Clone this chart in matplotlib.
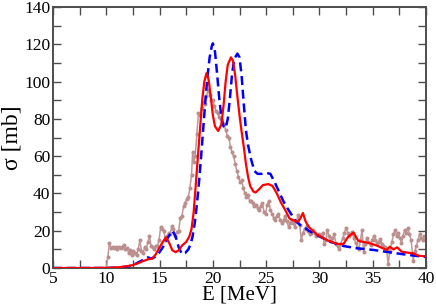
import matplotlib
matplotlib.use("Agg")
import matplotlib.pyplot as plt
from matplotlib.ticker import MultipleLocator

# ---------------- data ----------------
exp_E = [10.0, 10.15, 10.3, 10.45, 10.6, 10.75, 10.9, 11.05, 11.2, 11.35, 11.5, 11.65, 11.8, 11.95,
         12.1, 12.25, 12.4, 12.55, 12.7, 12.85, 13.0, 13.15, 13.3, 13.45, 13.6, 13.75, 13.9, 14.05,
         14.2, 14.35, 14.5, 14.65, 14.8, 14.95, 15.1, 15.25, 15.4, 15.55, 15.7, 15.85, 16.0, 16.15,
         16.3, 16.45, 16.6, 16.8, 16.95, 17.1, 17.25, 17.4, 17.55, 17.7, 17.85, 18.0, 18.1, 18.2,
         18.35, 18.5, 18.65, 18.8, 18.95, 19.1, 19.25, 19.4, 19.55, 19.7, 19.85, 20.0, 20.15, 20.3,
         20.45, 20.6, 20.75, 20.9, 21.05, 21.2, 21.35, 21.5, 21.65, 21.8, 21.95, 22.1, 22.25, 22.4,
         22.55, 22.7, 22.85, 23.0, 23.15, 23.3, 23.45, 23.6, 23.75, 23.9, 24.05, 24.2, 24.35, 24.5,
         24.65, 24.8, 24.95, 25.1, 25.25, 25.4, 25.55, 25.7, 25.85, 26.0, 26.15, 26.3, 26.5, 26.65,
         26.8, 26.95, 27.1, 27.25, 27.4, 27.55, 27.7, 27.85, 28.0, 28.15, 28.3, 28.45, 28.6, 28.8,
         28.95, 29.1, 29.25, 29.4, 29.55, 29.7, 29.85, 30.0, 30.15, 30.3, 30.45, 30.6, 30.75, 30.9,
         31.05, 31.2, 31.4, 31.55, 31.7, 31.85, 32.0, 32.2, 32.35, 32.5, 32.65, 32.8, 32.95, 33.1,
         33.25, 33.4, 33.55, 33.7, 33.85, 34.0, 34.15, 34.3, 34.45, 34.6, 34.8, 34.95, 35.1, 35.25,
         35.4, 35.55, 35.7, 35.85, 36.0, 36.15, 36.3, 36.45, 36.6, 36.8, 36.95, 37.1, 37.25, 37.4,
         37.55, 37.7, 37.85, 38.0, 38.15, 38.3, 38.45, 38.6, 38.8, 38.95, 39.1, 39.25, 39.4, 39.55,
         39.7, 39.85, 40.0]
exp_sigma = [0, 6, 13.5, 10.5, 11.5, 10.5, 11, 10, 11, 10.5, 11.5, 12.5, 10, 10.5,
             8, 9.5, 7, 9, 8, 7, 10, 15, 9, 8, 11, 10, 14, 17,
             12, 11, 10, 12, 12, 15, 22, 21, 20, 15, 17, 19, 18, 22.5,
             21, 17, 19.5, 20, 27, 28, 33, 35, 37, 38, 43, 50, 62, 57,
             60, 72, 83, 82, 86, 89, 88, 92, 95.5, 93, 90, 90, 87, 84,
             83, 81, 80, 78, 77, 74, 71, 70, 65, 62, 60, 56, 52, 49,
             46, 47, 43, 40, 38, 39, 36, 36, 35, 33, 34, 32, 31, 33,
             35, 30, 29, 34, 36, 31, 29, 27, 26, 28, 29, 26, 24, 26,
             28, 25, 22, 24, 26, 24, 22, 25, 28.5, 23, 15, 19, 21, 22.5,
             20, 18, 19, 20.5, 19, 17, 17.5, 18, 17, 19, 13, 15, 20.5, 17,
             14.5, 16, 18, 13, 12, 10, 13, 16, 19, 21.5, 19, 17, 18, 19.5,
             16, 13.5, 11, 10, 15, 20.5, 8.5, 13, 16, 14, 12.5, 15, 17, 15,
             13.5, 14, 15.5, 13, 12, 11, 10, 2, 9, 14, 18, 20.5, 17, 19,
             16, 13.5, 17, 20.5, 19, 21.5, 18, 15, 4, 9, 12, 15, 18, 16,
             15, 17, 15]

red_E = [5, 8, 10, 11, 11.5, 12, 12.5, 13, 13.5, 14, 14.3, 14.6, 15, 15.3, 15.6, 15.9, 16.2, 16.5,
         16.8, 17.1, 17.5, 17.8, 18.0, 18.2, 18.4, 18.6, 18.8, 19.0, 19.2, 19.4, 19.6, 19.8, 20.0,
         20.2, 20.5, 20.8, 21.0, 21.2, 21.4, 21.7, 21.9, 22.1, 22.3, 22.5, 22.7, 22.9, 23.1, 23.3,
         23.5, 23.8, 24.0, 24.3, 24.7, 25.2, 25.6, 26.0, 26.4, 26.8, 27.2, 27.8, 28.0, 28.2, 28.45,
         28.7, 29.0, 29.75, 30.7, 31.6, 32.25, 32.7, 33.2, 33.65, 34.6, 35.4, 36.3, 36.6, 36.95,
         37.3, 37.7, 38.3, 38.8, 39.3, 40.0]
red_sigma = [0, 0, 0.1, 0.3, 0.6, 1.0, 1.6, 2.6, 3.8, 4.8, 5.0, 7.0, 11, 14, 16.5, 13.5, 9.5, 8.5,
             9.5, 12, 14, 17, 21, 30, 45, 60, 75, 90, 100, 104.5, 101, 92, 82,
             76, 73.5, 77, 87, 100, 109, 113, 111, 103, 92, 82, 73, 65, 56, 49,
             44, 41, 40.5, 42, 44.5, 45, 44, 40, 35, 31, 26.5, 25, 25, 26.5, 29.5,
             25, 22, 18, 15, 13, 12.8, 16.8, 19, 14.5, 13.5, 12, 9.7, 11.4, 10,
             11.1, 8.8, 8.2, 7.9, 6.6, 6.2]

blue_E = [5, 10, 11, 12, 12.5, 13, 13.5, 13.9, 14.2, 14.6, 15.0, 15.4, 15.8, 16.2, 16.5, 16.8,
          17.1, 17.4, 17.7, 17.9, 18.1, 18.3, 18.5, 18.7, 18.9, 19.1, 19.3, 19.5, 19.7, 19.9, 20.0,
          20.2, 20.4, 20.6, 20.8, 21.0, 21.2, 21.4, 21.6, 21.8, 22.0, 22.3, 22.5, 22.7, 22.9, 23.1,
          23.3, 23.6, 23.9, 24.2, 24.6, 25.0, 25.4, 25.8, 26.2, 26.6, 27.0, 27.4, 27.8, 28.2, 28.5,
          29.0, 29.75, 31.0, 32.25, 33.5, 35.05, 36.6, 38.2, 40.0]
blue_sigma = [0, 0, 0.2, 0.8, 1.5, 3, 4.5, 5.7, 5, 6, 8.5, 12, 16.5, 20, 17, 11,
              7.5, 8, 10, 12.5, 17, 24, 34, 46, 60, 75, 90, 103, 113, 119, 120.5,
              116, 104, 91, 81, 76, 75, 80, 91, 104, 112, 115, 113, 103, 88, 74,
              66, 58, 52, 50.5, 50.5, 51, 50.5, 46, 41, 36, 32, 28.5, 25, 23, 22.2,
              20, 17.7, 14.1, 11.8, 10.6, 9.7, 8.4, 7.1, 5.9]

x_ticks = [5, 10, 15, 20, 25, 30, 35, 40]
y_ticks = [0, 20, 40, 60, 80, 100, 120, 140]

# ---------------- figure ----------------
plt.rcParams['font.family'] = ['Liberation Serif', 'DejaVu Serif']

fig = plt.figure(figsize=(4.36, 3.07), dpi=100)
ax = fig.add_axes([53/436, 1 - 268/307, 373/436, 261/307])

frame_col = '#4d4d4d'

ax.plot(exp_E, exp_sigma, color='#c09898', lw=1.1, marker='o', ms=1.9,
        mfc='#bc8f8f', mec='#bc8f8f', zorder=2)
ax.plot(blue_E, blue_sigma, color='#0000ff', lw=1.8, dashes=(3.6, 1.9), zorder=3)
ax.plot(red_E, red_sigma, color='#ff0000', lw=1.6, zorder=4)

ax.set_xlim(5, 40)
ax.set_ylim(0, 140)
ax.set_xticks(x_ticks)
ax.set_yticks(y_ticks)
ax.xaxis.set_minor_locator(MultipleLocator(2.5))
ax.yaxis.set_minor_locator(MultipleLocator(10))
ax.tick_params(which='both', direction='in', top=True, right=True,
               length=5.5, width=1.0, color=frame_col, labelsize=12.5, pad=2)
for sp in ax.spines.values():
    sp.set_color(frame_col)
    sp.set_linewidth(1.4)

ax.set_xlabel('E [MeV]', fontsize=15, labelpad=-1)
ax.set_ylabel('σ [mb]', fontsize=17, labelpad=1)

fig.savefig('out.png', dpi=100)
